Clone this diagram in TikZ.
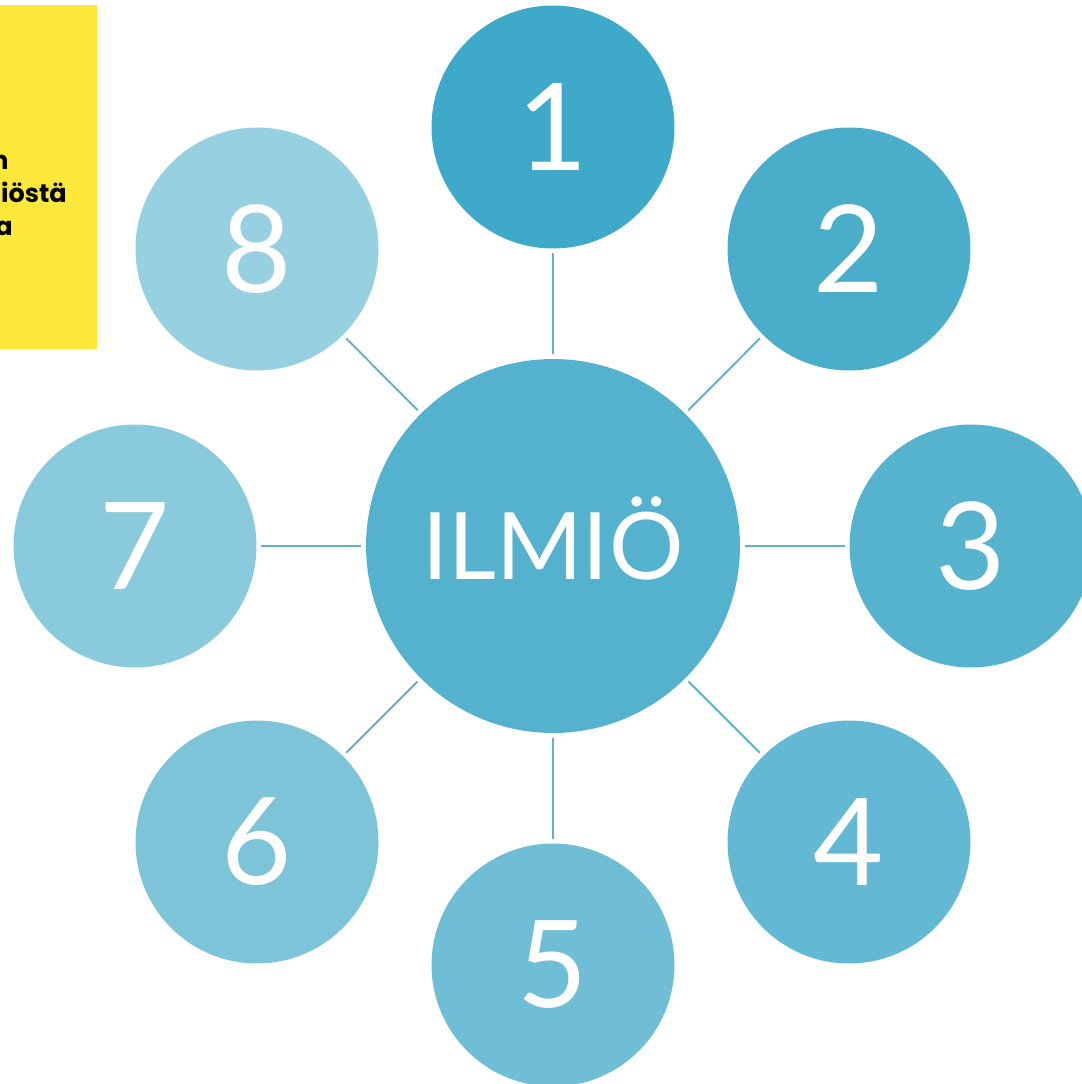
\documentclass[tikz,border=0pt]{standalone}
\usepackage{fontspec}
\usepackage{tikz}
\usetikzlibrary{arrows,shapes}
\newfontfamily\numfont{Lato}
\newfontfamily\notefont{Poppins}
\definecolor{noteyellow}{HTML}{FFE83C}
\definecolor{hubblue}{HTML}{55B2CE}
\definecolor{spokeline}{HTML}{5FB1CD}
\definecolor{tone1}{HTML}{3FA9C9}
\definecolor{tone2}{HTML}{4AAECB}
\definecolor{tone3}{HTML}{55B3CE}
\definecolor{tone4}{HTML}{63B8D3}
\definecolor{tone5}{HTML}{70BED6}
\definecolor{tone6}{HTML}{7DC4D9}
\definecolor{tone7}{HTML}{8ACADD}
\definecolor{tone8}{HTML}{97D0E0}
\tikzstyle{petal}=[circle,minimum size=4.86cm,inner sep=0pt,text=white,font=\numfont\fontsize{69}{80}\selectfont]
\tikzstyle{hub}=[circle,fill=hubblue,minimum size=7.48cm,inner sep=0pt,text=white,font=\numfont\fontsize{53}{60}\selectfont]
\tikzstyle{spoke} = [draw,line width=1.1pt,spokeline,shorten <=2.5pt,shorten >=2.5pt,-]
\tikzstyle{note}=[anchor=base east,inner sep=0pt,font=\notefont\bfseries\fontsize{14.5}{17}\selectfont]

\begin{document}
\begin{tikzpicture}[x=0.02cm,y=-0.02cm]
    \useasboundingbox (0,0) rectangle (1081,1084);
    % The yellow note at the left, cut off by the page edge
    \fill[noteyellow] (-60,5) rectangle (97,349);
    \node[note] (n1) at (9,170) {n};
    \node[note] (n2) at (67,203) {iöstä};
    \node[note] (n3) at (13,236) {a};
    % First we draw the circles
    \node[hub] (c) at (553,546) {};
    \node[text=white,font=\numfont\fontsize{53}{60}\selectfont] (lbl) at (553,538) {ILMIÖ};
    \foreach \pos/\name in {{(553,127)/1}, {(849,249)/2}, {(971,546)/3}, {(849,842)/4}, {(553,965)/5}, {(257,842)/6}, {(135,546)/7}, {(257,249)/8}}
        \node[petal,fill=tone\name] (\name) at \pos {\name};
    % Connect the hub with the circles
    \foreach \dest in {1,...,8}
        \path[spoke] (c) -- (\dest) ;
\end{tikzpicture}
\end{document}
